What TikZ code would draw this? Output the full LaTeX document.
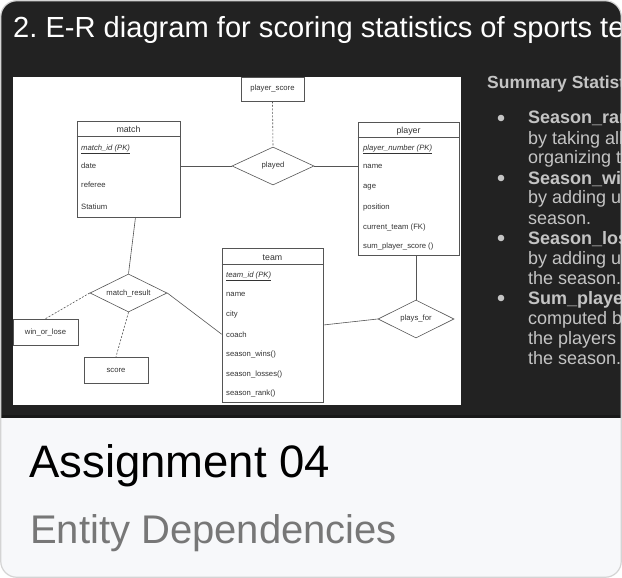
\documentclass[tikz,border=0pt]{standalone}
\usepackage{fontspec}
\setmainfont{Liberation Sans}
\usetikzlibrary{shapes.geometric}

\definecolor{slide}{HTML}{222222}
\definecolor{cardbg}{HTML}{F7F8FA}
\definecolor{cardline}{HTML}{D4D4D4}
\definecolor{erline}{HTML}{555555}
\definecolor{ertext}{HTML}{333333}
\definecolor{notes}{HTML}{C4C4C4}
\definecolor{subtitle}{HTML}{777777}

\newcommand{\fsz}[1]{\fontsize{#1}{#1}\selectfont}
\frenchspacing

\tikzset{
  ertxt/.style={text=ertext,font=\fsz{7.7},inner sep=0},
  attr/.style={ertxt,anchor=base west},
  enttitle/.style={text=ertext,font=\fsz{8.8},inner sep=0,anchor=base},
  entity/.style={draw=erline,line width=.6pt,fill=white,inner sep=0},
  attrbox/.style={entity,ertxt},
  relship/.style={diamond,aspect=2,draw=erline,line width=.6pt,fill=white,ertxt},
  erlink/.style={draw=erline,line width=.6pt},
  optlink/.style={erlink,dash pattern=on 2pt off 1.5pt},
  note/.style={text=notes,font=\fsz{18},anchor=base west,inner sep=0}
}

\begin{document}
\begin{tikzpicture}[x=1pt,y=-1pt]
    \fill[white] (0,0) rectangle (622,578);
    \useasboundingbox (0,0) rectangle (622,578);
    \begin{scope}
        \clip[rounded corners=16pt] (.75,.75) rectangle (621.25,577.25);
        \fill[cardbg] (0,0) rectangle (622,578);
        \fill[slide] (0,0) rectangle (622,418);
        \fill[black!90] (0,415) rectangle (622,418);
        % slide title
        \node[text=white,font=\fsz{29.1},anchor=base west,inner sep=0] (title)
            at (13,38) {2. E-R diagram for scoring statistics of sports teams};
        % notes on the right
        \node[note,font=\bfseries\fsz{17.5}] (summary) at (487,89) {Summary Statistics};
        \foreach \y in {118,178,238,298}
            \fill[notes] (501,\y) circle (3.3pt);
        \foreach \t/\y [count=\i] in {{\textbf{Season\_rank}}/124, by taking all/144,
                organizing the/164, {\textbf{Season\_wins}}/184, by adding up/204,
                season./224, {\textbf{Season\_losses}}/244, by adding up/264,
                the season./284, {\textbf{Sum\_player}}/304, computed by/324,
                the players s/344, the season./364}
            \node[note] (line-\i) at (528,\y) {\t};
    \end{scope}
    \draw[cardline,line width=1.2pt,rounded corners=16pt] (.75,.75) rectangle (621.25,577.25);

    % E-R diagram
    \fill[white] (13,77) rectangle (461,405);

    \node[entity,minimum width=103pt,minimum height=96pt] (match) at (128.5,169) {};
    \draw[erline,line width=.6pt] ([yshift=-16pt]match.north west) -- ([yshift=-16pt]match.north east);
    \node[enttitle] (match-title) at (128.5,132.5) {match};
    \foreach \t/\y [count=\i] in {{\underline{\textit{match\_id (PK)}}}/150, date/168,
            referee/187, Statium/209}
        \node[attr] (match-\i) at (81,\y) {\t};

    \node[entity,minimum width=101pt,minimum height=133pt] (player) at (408.5,188.5) {};
    \draw[erline,line width=.6pt] ([yshift=-16pt]player.north west) -- ([yshift=-16pt]player.north east);
    \node[enttitle] (player-title) at (408.5,133.5) {player};
    \foreach \t/\y [count=\i] in {{\underline{\textit{player\_number (PK)}}}/150, name/168,
            age/188, position/209, current\_team (FK)/229, sum\_player\_score ()/248}
        \node[attr] (player-\i) at (363,\y) {\t};

    \node[entity,minimum width=101pt,minimum height=154pt] (team) at (272.5,325) {};
    \draw[erline,line width=.6pt] ([yshift=-17pt]team.north west) -- ([yshift=-17pt]team.north east);
    \node[enttitle] (team-title) at (272.5,260) {team};
    \foreach \t/\y [count=\i] in {{\underline{\textit{team\_id (PK)}}}/277, name/296,
            city/316, coach/337, season\_wins()/356, season\_losses()/376, season\_rank()/395}
        \node[attr] (team-\i) at (226,\y) {\t};

    \node[attrbox,minimum width=63pt,minimum height=24pt] (pscore) at (272.5,89) {player\_score};
    \node[attrbox,minimum width=65pt,minimum height=26pt] (wol) at (45.5,332) {win\_or\_lose};
    \node[attrbox,minimum width=64pt,minimum height=26pt] (score) at (116,370) {score};

    \node[relship,minimum width=82pt,minimum height=38pt] (played) at (273,166) {played};
    \node[relship,minimum width=76pt,minimum height=38pt] (plays) at (416,319) {plays\_for};
    \node[relship,minimum width=77pt,minimum height=38pt] (mres) at (128.5,293) {match\_result};

    \draw[erlink] (match.east |- played.west) -- (played.west);
    \draw[erlink] (played.east) -- (played.east -| player.west);
    \draw[optlink] (pscore.south) -- (played.north);
    \draw[erlink] ([xshift=7pt]match.south) -- (mres.north);
    \draw[erlink] (mres.east) -- (team.west |- team-4);
    \draw[optlink] (mres.west) -- (wol.north);
    \draw[optlink] (mres.south) -- (score.north);
    \draw[erlink] (plays.north |- player.south) -- (plays.north);
    \draw[erlink] (team.east) -- (plays.west);

    % card caption
    \node[font=\fsz{45.5},anchor=base west,inner sep=0] (heading) at (29,477) {Assignment 04};
    \node[text=subtitle,font=\fsz{40},anchor=base west,inner sep=0] (subheading)
        at (30,543) {Entity Dependencies};
\end{tikzpicture}
\end{document}
